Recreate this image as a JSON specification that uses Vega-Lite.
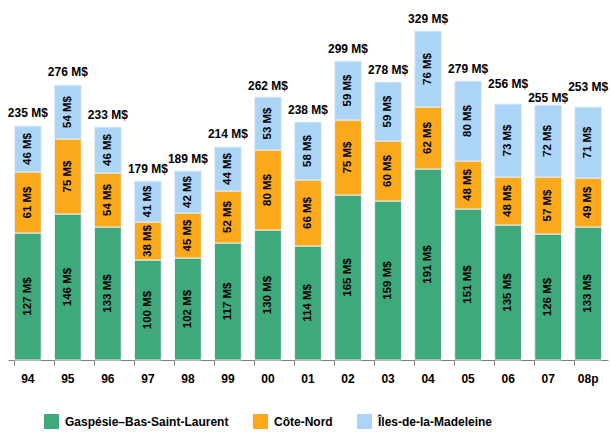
{
  "$schema": "https://vega.github.io/schema/vega-lite/v6.json",
  "width": 600,
  "height": 360,
  "autosize": {"type": "none"},
  "padding": {"left": 8, "top": 0, "right": 3, "bottom": 72},
  "config": {"view": {"stroke": null}, "font": "Liberation Sans"},
  "datasets": {
    "seg": [
      {"year": "94", "region": "Gaspésie–Bas-Saint-Laurent", "o": 1, "value": 127},
      {"year": "94", "region": "Côte-Nord", "o": 2, "value": 61},
      {"year": "94", "region": "Îles-de-la-Madeleine", "o": 3, "value": 46},
      {"year": "95", "region": "Gaspésie–Bas-Saint-Laurent", "o": 1, "value": 146},
      {"year": "95", "region": "Côte-Nord", "o": 2, "value": 75},
      {"year": "95", "region": "Îles-de-la-Madeleine", "o": 3, "value": 54},
      {"year": "96", "region": "Gaspésie–Bas-Saint-Laurent", "o": 1, "value": 133},
      {"year": "96", "region": "Côte-Nord", "o": 2, "value": 54},
      {"year": "96", "region": "Îles-de-la-Madeleine", "o": 3, "value": 46},
      {"year": "97", "region": "Gaspésie–Bas-Saint-Laurent", "o": 1, "value": 100},
      {"year": "97", "region": "Côte-Nord", "o": 2, "value": 38},
      {"year": "97", "region": "Îles-de-la-Madeleine", "o": 3, "value": 41},
      {"year": "98", "region": "Gaspésie–Bas-Saint-Laurent", "o": 1, "value": 102},
      {"year": "98", "region": "Côte-Nord", "o": 2, "value": 45},
      {"year": "98", "region": "Îles-de-la-Madeleine", "o": 3, "value": 42},
      {"year": "99", "region": "Gaspésie–Bas-Saint-Laurent", "o": 1, "value": 117},
      {"year": "99", "region": "Côte-Nord", "o": 2, "value": 52},
      {"year": "99", "region": "Îles-de-la-Madeleine", "o": 3, "value": 44},
      {"year": "00", "region": "Gaspésie–Bas-Saint-Laurent", "o": 1, "value": 130},
      {"year": "00", "region": "Côte-Nord", "o": 2, "value": 80},
      {"year": "00", "region": "Îles-de-la-Madeleine", "o": 3, "value": 53},
      {"year": "01", "region": "Gaspésie–Bas-Saint-Laurent", "o": 1, "value": 114},
      {"year": "01", "region": "Côte-Nord", "o": 2, "value": 66},
      {"year": "01", "region": "Îles-de-la-Madeleine", "o": 3, "value": 58},
      {"year": "02", "region": "Gaspésie–Bas-Saint-Laurent", "o": 1, "value": 165},
      {"year": "02", "region": "Côte-Nord", "o": 2, "value": 75},
      {"year": "02", "region": "Îles-de-la-Madeleine", "o": 3, "value": 59},
      {"year": "03", "region": "Gaspésie–Bas-Saint-Laurent", "o": 1, "value": 159},
      {"year": "03", "region": "Côte-Nord", "o": 2, "value": 60},
      {"year": "03", "region": "Îles-de-la-Madeleine", "o": 3, "value": 59},
      {"year": "04", "region": "Gaspésie–Bas-Saint-Laurent", "o": 1, "value": 191},
      {"year": "04", "region": "Côte-Nord", "o": 2, "value": 62},
      {"year": "04", "region": "Îles-de-la-Madeleine", "o": 3, "value": 76},
      {"year": "05", "region": "Gaspésie–Bas-Saint-Laurent", "o": 1, "value": 151},
      {"year": "05", "region": "Côte-Nord", "o": 2, "value": 48},
      {"year": "05", "region": "Îles-de-la-Madeleine", "o": 3, "value": 80},
      {"year": "06", "region": "Gaspésie–Bas-Saint-Laurent", "o": 1, "value": 135},
      {"year": "06", "region": "Côte-Nord", "o": 2, "value": 48},
      {"year": "06", "region": "Îles-de-la-Madeleine", "o": 3, "value": 73},
      {"year": "07", "region": "Gaspésie–Bas-Saint-Laurent", "o": 1, "value": 126},
      {"year": "07", "region": "Côte-Nord", "o": 2, "value": 57},
      {"year": "07", "region": "Îles-de-la-Madeleine", "o": 3, "value": 72},
      {"year": "08p", "region": "Gaspésie–Bas-Saint-Laurent", "o": 1, "value": 133},
      {"year": "08p", "region": "Côte-Nord", "o": 2, "value": 49},
      {"year": "08p", "region": "Îles-de-la-Madeleine", "o": 3, "value": 71}
    ],
    "tot": [
      {"year": "94", "total": 235},
      {"year": "95", "total": 276},
      {"year": "96", "total": 233},
      {"year": "97", "total": 179},
      {"year": "98", "total": 189},
      {"year": "99", "total": 214},
      {"year": "00", "total": 262},
      {"year": "01", "total": 238},
      {"year": "02", "total": 299},
      {"year": "03", "total": 278},
      {"year": "04", "total": 329},
      {"year": "05", "total": 279},
      {"year": "06", "total": 256},
      {"year": "07", "total": 255},
      {"year": "08p", "total": 253}
    ]
  },
  "layer": [
    {
      "data": {"name": "seg"},
      "transform": [
        {"stack": "value", "groupby": ["year"], "sort": [{"field": "o", "order": "ascending"}], "as": ["y0", "y1"]},
        {"calculate": "(datum.y0 + datum.y1) / 2", "as": "mid"},
        {"calculate": "datum.value + ' M$'", "as": "lbl"}
      ],
      "layer": [
        {
          "mark": {"type": "bar", "stroke": "#e8f0f8", "strokeWidth": 1},
          "encoding": {
            "x": {"field": "year", "type": "nominal", "sort": null,
              "scale": {"paddingInner": 0.33, "paddingOuter": 0.16},
              "axis": {"title": null, "labelAngle": 0, "labelFont": "Liberation Sans", "labelFontWeight": "bold", "labelFontSize": 12, "labelColor": "#000", "labelPadding": 8, "domainColor": "#808080", "tickColor": "#808080", "tickSize": 5, "bandPosition": 0}},
            "y": {"field": "y0", "type": "quantitative", "scale": {"domain": [0, 360], "nice": false, "zero": true}, "axis": null},
            "y2": {"field": "y1"},
            "color": {"field": "region", "type": "nominal",
              "sort": ["Gaspésie–Bas-Saint-Laurent", "Côte-Nord", "Îles-de-la-Madeleine"],
              "scale": {"domain": ["Gaspésie–Bas-Saint-Laurent", "Côte-Nord", "Îles-de-la-Madeleine"], "range": ["#3fa97c", "#fba81a", "#abd4f7"]},
              "legend": {"title": null, "orient": "none", "legendX": 36, "legendY": 414, "direction": "horizontal", "columns": 3, "columnPadding": 24, "symbolType": "square", "symbolSize": 225, "symbolStrokeWidth": 0, "symbolOpacity": 1, "labelFont": "Liberation Sans", "labelFontWeight": "bold", "labelFontSize": 12, "labelColor": "#000", "labelOffset": 6, "labelLimit": 400}}
          }
        },
        {
          "mark": {"type": "text", "angle": 270, "font": "Liberation Sans", "fontWeight": "bold", "fontSize": 11.5, "color": "#000", "baseline": "middle", "align": "center"},
          "encoding": {
            "x": {"field": "year", "type": "nominal", "sort": null},
            "y": {"field": "mid", "type": "quantitative", "scale": {"domain": [0, 360], "nice": false, "zero": true}},
            "text": {"field": "lbl"}
          }
        }
      ]
    },
    {
      "data": {"name": "tot"},
      "transform": [{"calculate": "datum.total + ' M$'", "as": "lbl"}],
      "mark": {"type": "text", "font": "Liberation Sans", "fontWeight": "bold", "fontSize": 12, "color": "#000", "baseline": "bottom",
        "dy": {"expr": "datum.year === '06' || datum.year === '08p' ? -13 : (datum.year === '07' ? 0 : -5)"}},
      "encoding": {
        "x": {"field": "year", "type": "nominal", "sort": null},
        "y": {"field": "total", "type": "quantitative", "scale": {"domain": [0, 360], "nice": false, "zero": true}},
        "text": {"field": "lbl"}
      }
    }
  ]
}
